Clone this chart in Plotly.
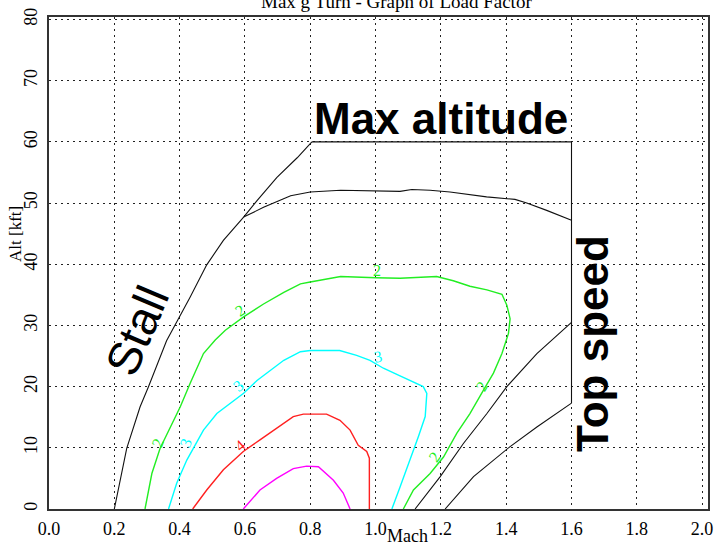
import plotly.graph_objects as go

# ---------------- data ----------------
# outer envelope: stall line, max altitude, top speed, lower speed bound
stall_mach = [0.20, 0.217, 0.238, 0.279, 0.304, 0.36, 0.40, 0.432, 0.483, 0.534, 0.596, 0.637, 0.698, 0.76, 0.805]
stall_alt = [0, 4.7, 9.9, 16.7, 19.9, 27.5, 31.4, 34.6, 39.9, 43.9, 47.7, 50.4, 54.2, 57.4, 60]
maxalt_mach = [0.805, 1.60, 1.60]
maxalt_alt = [60, 60, 17.3]
lowdiag_mach = [1.60, 1.494, 1.412, 1.30, 1.213]
lowdiag_alt = [17.3, 13.4, 10.2, 5.3, 0]

# 1 g contour (black)
g1_top_mach = [0.596, 0.657, 0.74, 0.80, 0.893, 1.075, 1.111, 1.167, 1.228, 1.279, 1.34, 1.427, 1.463, 1.524, 1.60]
g1_top_alt = [47.7, 49.3, 51.2, 51.8, 52.1, 51.9, 52.2, 52.1, 51.8, 51.4, 51.0, 50.6, 50.0, 48.8, 47.2]
g1_diag_mach = [1.121, 1.198, 1.269, 1.341, 1.402, 1.494, 1.60]
g1_diag_alt = [0, 5.3, 10.7, 15.6, 20.0, 25.4, 30.5]

# 2 g contour (green)
g2_mach = [0.294, 0.315, 0.340, 0.371, 0.402, 0.432, 0.473, 0.509, 0.540, 0.596, 0.657, 0.719, 0.770, 0.80,
           0.893, 1.0, 1.075, 1.187, 1.238, 1.289, 1.341, 1.387, 1.402, 1.412, 1.407, 1.387, 1.361, 1.330,
           1.289, 1.249, 1.208, 1.167, 1.116, 1.085]
g2_alt = [0, 5.8, 9.9, 13.4, 16.7, 20.5, 25.4, 27.6, 29.2, 31.4, 33.5, 35.4, 36.8, 37.1,
          38.0, 37.8, 37.7, 38.0, 37.3, 36.4, 35.8, 35.1, 33.3, 31.1, 28.7, 25.4, 22.2, 19.4,
          15.6, 12.4, 8.5, 5.8, 3.1, 0]

# 3 g contour (cyan)
g3_mach = [0.366, 0.391, 0.422, 0.442, 0.473, 0.514, 0.555, 0.596, 0.637, 0.678, 0.719, 0.770, 0.80, 0.89,
           0.942, 0.983, 1.024, 1.065, 1.106, 1.146, 1.157, 1.152, 1.131, 1.106, 1.075, 1.05]
g3_alt = [0, 4.2, 8.0, 9.9, 12.9, 15.6, 17.2, 18.9, 21.0, 22.7, 24.3, 25.7, 25.9, 25.9,
          25.1, 24.3, 23.0, 22.0, 21.0, 20.0, 18.9, 15.1, 11.8, 8.0, 3.6, 0]

# 4 g contour (red)
g4_mach = [0.44, 0.483, 0.534, 0.595, 0.646, 0.697, 0.748, 0.779, 0.85, 0.891, 0.922, 0.947, 0.973, 0.981, 0.981]
g4_alt = [0, 3.1, 6.4, 9.4, 11.3, 13.2, 15.1, 15.5, 15.5, 14.5, 12.9, 10.4, 9.4, 8.3, 0]

# 5 g contour (magenta)
g5_mach = [0.595, 0.646, 0.697, 0.748, 0.789, 0.825, 0.871, 0.901, 0.922]
g5_alt = [0, 3.1, 5.0, 6.6, 7.0, 6.9, 4.7, 2.6, 0]

# contour labels: (text, mach, alt, color, angle)
label_text = ["2", "2", "2", "2", "2", "3", "3", "3", "4"]
label_mach = [0.334, 0.585, 1.004, 1.325, 1.182, 0.42, 0.58, 1.008, 0.585]
label_alt = [10.8, 32.5, 39.0, 20.0, 8.5, 10.8, 20.2, 24.9, 10.4]
label_color = ["#22ee22", "#22ee22", "#22ee22", "#22ee22", "#22ee22", "#00ffff", "#00ffff", "#00ffff", "#ff2020"]
label_angle = [-70, -35, 0, -60, -55, -70, -40, -10, -40]

x_ticks = [0.0, 0.2, 0.4, 0.6, 0.8, 1.0, 1.2, 1.4, 1.6, 1.8, 2.0]
y_ticks = [0, 10, 20, 30, 40, 50, 60, 70, 80]

# ---------------- figure ----------------
fig = go.Figure()

def line(x, y, color, width=1.0):
    fig.add_trace(go.Scatter(x=x, y=y, mode="lines", line=dict(color=color, width=width),
                             hoverinfo="skip", showlegend=False))

line(stall_mach, stall_alt, "#111111", 1.1)
line(maxalt_mach, maxalt_alt, "#111111", 1.1)
line(lowdiag_mach, lowdiag_alt, "#111111", 1.1)
line(g1_top_mach, g1_top_alt, "#111111", 1.1)
line(g1_diag_mach, g1_diag_alt, "#111111", 1.1)
line(g2_mach, g2_alt, "#22ee22", 1.4)
line(g3_mach, g3_alt, "#00ffff", 1.4)
line(g4_mach, g4_alt, "#ff2020", 1.4)
line(g5_mach, g5_alt, "#ff00ff", 1.4)

serif = "Liberation Serif, Times New Roman, serif"
sans = "Liberation Sans, Arial, sans-serif"

for t, mx, al, c, a in zip(label_text, label_mach, label_alt, label_color, label_angle):
    fig.add_annotation(x=mx, y=al, text=t, showarrow=False, textangle=a,
                       font=dict(family=serif, size=16, color=c))

# big annotations
fig.add_annotation(x=1.199, y=63.8, text="<b>Max altitude</b>", showarrow=False,
                   font=dict(family=sans, size=44, color="black"))
fig.add_annotation(x=1.662, y=27.1, text="<b>Top speed</b>", showarrow=False, textangle=-90,
                   font=dict(family=sans, size=44, color="black"))
fig.add_annotation(x=0.269, y=29.2, text="Stall", showarrow=False, textangle=-67,
                   font=dict(family=sans, size=47, color="black"))

# title & axis titles
fig.add_annotation(xref="paper", yref="paper", x=0.5266, y=1.0305, yanchor="middle",
                   text="Max g Turn - Graph of Load Factor", showarrow=False,
                   font=dict(family=serif, size=19, color="black"))
fig.add_annotation(xref="paper", yref="paper", x=(408 - 49) / 659, y=(509 - 536) / 492,
                   yanchor="middle", text="Mach", showarrow=False,
                   font=dict(family=serif, size=18, color="black"))
fig.add_annotation(xref="paper", yref="paper", x=(15 - 49) / 659, y=(509 - 234) / 492,
                   xanchor="center", yanchor="middle", textangle=-90, text="Alt [kft]", showarrow=False,
                   font=dict(family=serif, size=17, color="black"))

axis_common = dict(showline=True, mirror=True, linecolor="#333333", linewidth=2,
                   showgrid=True, gridcolor="#222222", gridwidth=1.3, griddash="2px,4px",
                   zeroline=False, ticks="", automargin=False,
                   tickfont=dict(family=serif, size=18, color="black"))

fig.update_xaxes(range=[0, 2.018], tickmode="array", tickvals=x_ticks,
                 ticktext=[f"{v:.1f}" for v in x_ticks], ticklabelstandoff=2, **axis_common)
fig.update_yaxes(range=[0, 80.4], tickmode="array", tickvals=y_ticks,
                 ticktext=[str(v) for v in y_ticks], tickangle=-90, ticklabelstandoff=3, **axis_common)

fig.update_layout(width=715, height=545, margin=dict(l=49, r=7, t=17, b=36),
                  plot_bgcolor="white", paper_bgcolor="white", showlegend=False)

fig.write_html("out.html", config={"displayModeBar": False},
               post_script="document.body.style.margin='0px';")
